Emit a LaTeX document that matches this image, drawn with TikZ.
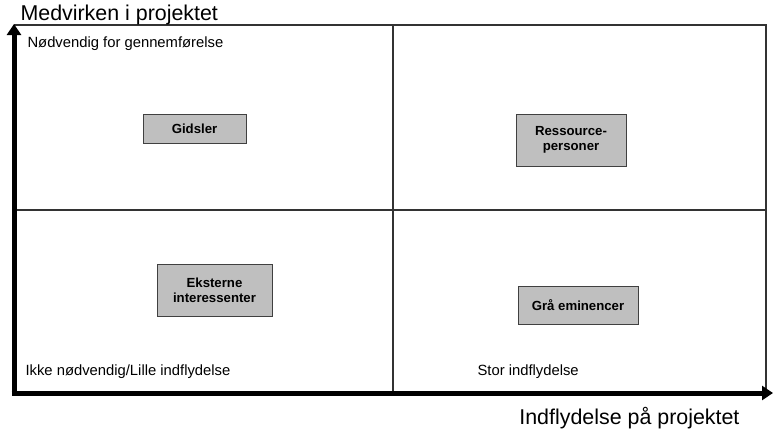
\documentclass[tikz,border=0pt]{standalone}
\usepackage{fontspec}
\setmainfont{Liberation Sans}
\usetikzlibrary{arrows.meta}
\tikzset{
  actor/.style={draw=black!75, fill=black!25, line width=0.9pt, align=center,
    font=\fontsize{13.2}{15}\selectfont\bfseries, inner sep=2pt},
  grid line/.style={black!80, line width=1.2pt},
  axis/.style={line width=5pt, -{Triangle[width=14pt,length=11pt]}},
  corner/.style={font=\fontsize{14.8}{17}\selectfont, anchor=base west},
  title/.style={font=\fontsize{21.4}{24}\selectfont}
}
\begin{document}
\begin{tikzpicture}[x=1pt,y=-1pt]
\useasboundingbox (0,0) rectangle (776,431);
\def\xl{14}   % left edge
\def\xm{393}  % middle column
\def\xr{766}  % right edge
\def\yt{25}   % top edge
\def\ym{210}  % middle row
\def\yb{393}  % bottom edge
% quadrant frame
\draw[grid line] (\xl,\yt) -- (\xr,\yt) -- (\xr,\yb);
\draw[grid line] (\xm,\yt) -- (\xm,\yb);
\draw[grid line] (\xl,\ym) -- (\xr,\ym);
% axes
\coordinate (origin) at (\xl,\yb+2.5);
\coordinate (ytip) at (\xl,24);
\coordinate (xstart) at (\xl-2.5,\yb);
\coordinate (xtip) at (773,\yb);
\draw[axis] (origin) -- (ytip);
\draw[axis] (xstart) -- (xtip);
\node[title, anchor=base west] (ylab) at (17,20) {Medvirken i projektet};
\node[title, anchor=base east] (xlab) at (743,424) {Indflydelse på projektet};
% quadrant captions
\node[corner] (need) at (24,47) {Nødvendig for gennemførelse};
\node[corner] (noneed) at (22,375) {Ikke nødvendig/Lille indflydelse};
\node[corner] (big) at (474,375) {Stor indflydelse};
% stakeholder groups
\node[actor, minimum width=103pt, minimum height=29pt] (gidsler) at (194.5,128.5) {Gidsler};
\node[actor, minimum width=110pt, minimum height=52pt] (ressource) at (571,140) {Ressource-\\personer};
\node[actor, minimum width=115pt, minimum height=52pt] (eksterne) at (214.5,290) {Eksterne\\interessenter};
\node[actor, minimum width=120pt, minimum height=38pt] (graa) at (578,305) {Grå eminencer};
\end{tikzpicture}
\end{document}
